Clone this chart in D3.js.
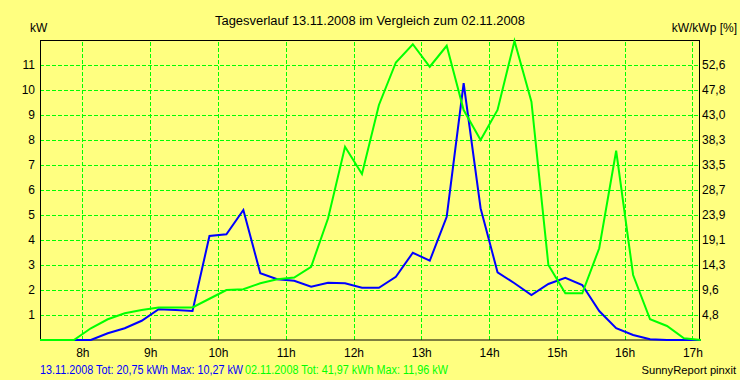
<!DOCTYPE html>
<html><head><meta charset="utf-8">
<script src="https://cdn.jsdelivr.net/npm/d3@7"></script>
<style>
html,body{margin:0;padding:0;background:#ffff80;}
svg{display:block;}
text{font-family:"Liberation Sans",Arial,sans-serif;font-size:12px;fill:#000;}
</style></head><body>
<svg id="c" width="740" height="380"></svg>
<script>
// time of each 15-min sample (decimal hours)
const times = [7.375,7.625,7.875,8.125,8.375,8.625,8.875,9.125,9.375,9.625,
  9.875,10.125,10.375,10.625,10.875,11.125,11.375,11.625,11.875,12.125,
  12.375,12.625,12.875,13.125,13.375,13.625,13.875,14.125,14.375,14.625,
  14.875,15.125,15.375,15.625,15.875,16.125,16.375,16.625,16.875,17.125];
// 13.11.2008 (blue), kW
const day1 = [0,0,0,0,0.27,0.47,0.77,1.23,1.2,1.16,
  4.16,4.23,5.2,2.67,2.43,2.37,2.13,2.29,2.27,2.09,
  2.09,2.53,3.49,3.17,4.93,10.27,5.27,2.71,2.27,1.8,
  2.24,2.49,2.2,1.16,0.47,0.2,0.03,0,0,0];
// 02.11.2008 (green), kW
const day2 = [0,0,0,0.47,0.83,1.07,1.2,1.3,1.3,1.3,
  1.65,2.0,2.03,2.27,2.43,2.5,2.93,4.87,7.73,6.64,
  9.4,11.1,11.83,10.93,11.77,9.2,8.0,9.2,11.96,9.53,
  3.0,1.87,1.87,3.67,7.57,2.6,0.83,0.56,0.07,0];
const hourTicks = [8,9,10,11,12,13,14,15,16,17];
const kwTicks = [1,2,3,4,5,6,7,8,9,10,11];
const pctLabels = ["4,8","9,6","14,3","19,1","23,9","28,7","33,5","38,3","43,0","47,8","52,6"];
const title = "Tagesverlauf 13.11.2008 im Vergleich zum 02.11.2008";
const legend1 = "13.11.2008 Tot: 20,75 kWh Max: 10,27 kW";
const legend2 = "02.11.2008 Tot: 41,97 kWh Max: 11,96 kW";

const svg = d3.select("#c");
const L=40, R=699, T=40, B=340;
const x = d3.scaleLinear().domain([7.375,17.097]).range([L,R]);
const y = d3.scaleLinear().domain([0,12]).range([B,T]);

svg.append("rect").attr("width",740).attr("height",380).attr("fill","#ffff80");

// grid
const gx = svg.append("g").attr("transform",`translate(0,${B})`)
  .call(d3.axisBottom(x).tickValues(hourTicks).tickSize(-(B-T)).tickFormat(""));
const gy = svg.append("g").attr("transform",`translate(${L},0)`)
  .call(d3.axisLeft(y).tickValues(kwTicks).tickSize(-(R-L)).tickFormat(""));
[gx,gy].forEach(g=>{
  g.select(".domain").remove();
  g.selectAll("line").attr("stroke","#00ff00").attr("stroke-width",1)
   .attr("stroke-dasharray","4,2").attr("shape-rendering","crispEdges");
});

// border
svg.append("rect").attr("x",L+0.5).attr("y",T+0.5).attr("width",R-L).attr("height",B-T-0.5)
  .attr("fill","none").attr("stroke","#000").attr("stroke-width",1);

// axes labels
const ax = svg.append("g").attr("transform",`translate(0,${B})`)
  .call(d3.axisBottom(x).tickValues(hourTicks).tickSize(0).tickPadding(8).tickFormat(d=>d+"h"));
const ayl = svg.append("g").attr("transform",`translate(${L-5},0)`)
  .call(d3.axisLeft(y).tickValues(kwTicks).tickSize(0).tickPadding(0));
const ayr = svg.append("g").attr("transform",`translate(${R+3},0)`)
  .call(d3.axisRight(y).tickValues(kwTicks).tickSize(0).tickPadding(0).tickFormat((d,i)=>pctLabels[i]));
[ax,ayl,ayr].forEach(g=>{
  g.select(".domain").remove();
  g.selectAll("text").attr("font-family","Liberation Sans, Arial, sans-serif").attr("font-size",12).attr("fill","#000");
});

// lines
const line = d3.line().x((d,i)=>x(times[i])).y(d=>y(d));
svg.append("path").datum(day1).attr("d",line).attr("fill","none")
  .attr("stroke","#0000ff").attr("stroke-width",2).attr("stroke-linejoin","miter");
svg.append("path").datum(day2).attr("d",line).attr("fill","none")
  .attr("stroke","#00ff00").attr("stroke-width",2).attr("stroke-linejoin","miter");

// texts
svg.append("text").attr("x",215).attr("y",25).attr("textLength",310)
  .attr("lengthAdjust","spacingAndGlyphs").text(title);
svg.append("text").attr("x",30).attr("y",32).text("kW");
svg.append("text").attr("x",737).attr("y",32).attr("text-anchor","end").text("kW/kWp [%]");
svg.append("text").attr("x",40).attr("y",374).attr("textLength",203)
  .attr("lengthAdjust","spacingAndGlyphs").style("fill","#0000ff").text(legend1);
svg.append("text").attr("x",245).attr("y",374).attr("textLength",203)
  .attr("lengthAdjust","spacingAndGlyphs").style("fill","#00ff00").text(legend2);
svg.append("text").attr("x",736).attr("y",374).attr("text-anchor","end")
  .style("font-size","11.2px").text("SunnyReport pinxit");
</script></body></html>
